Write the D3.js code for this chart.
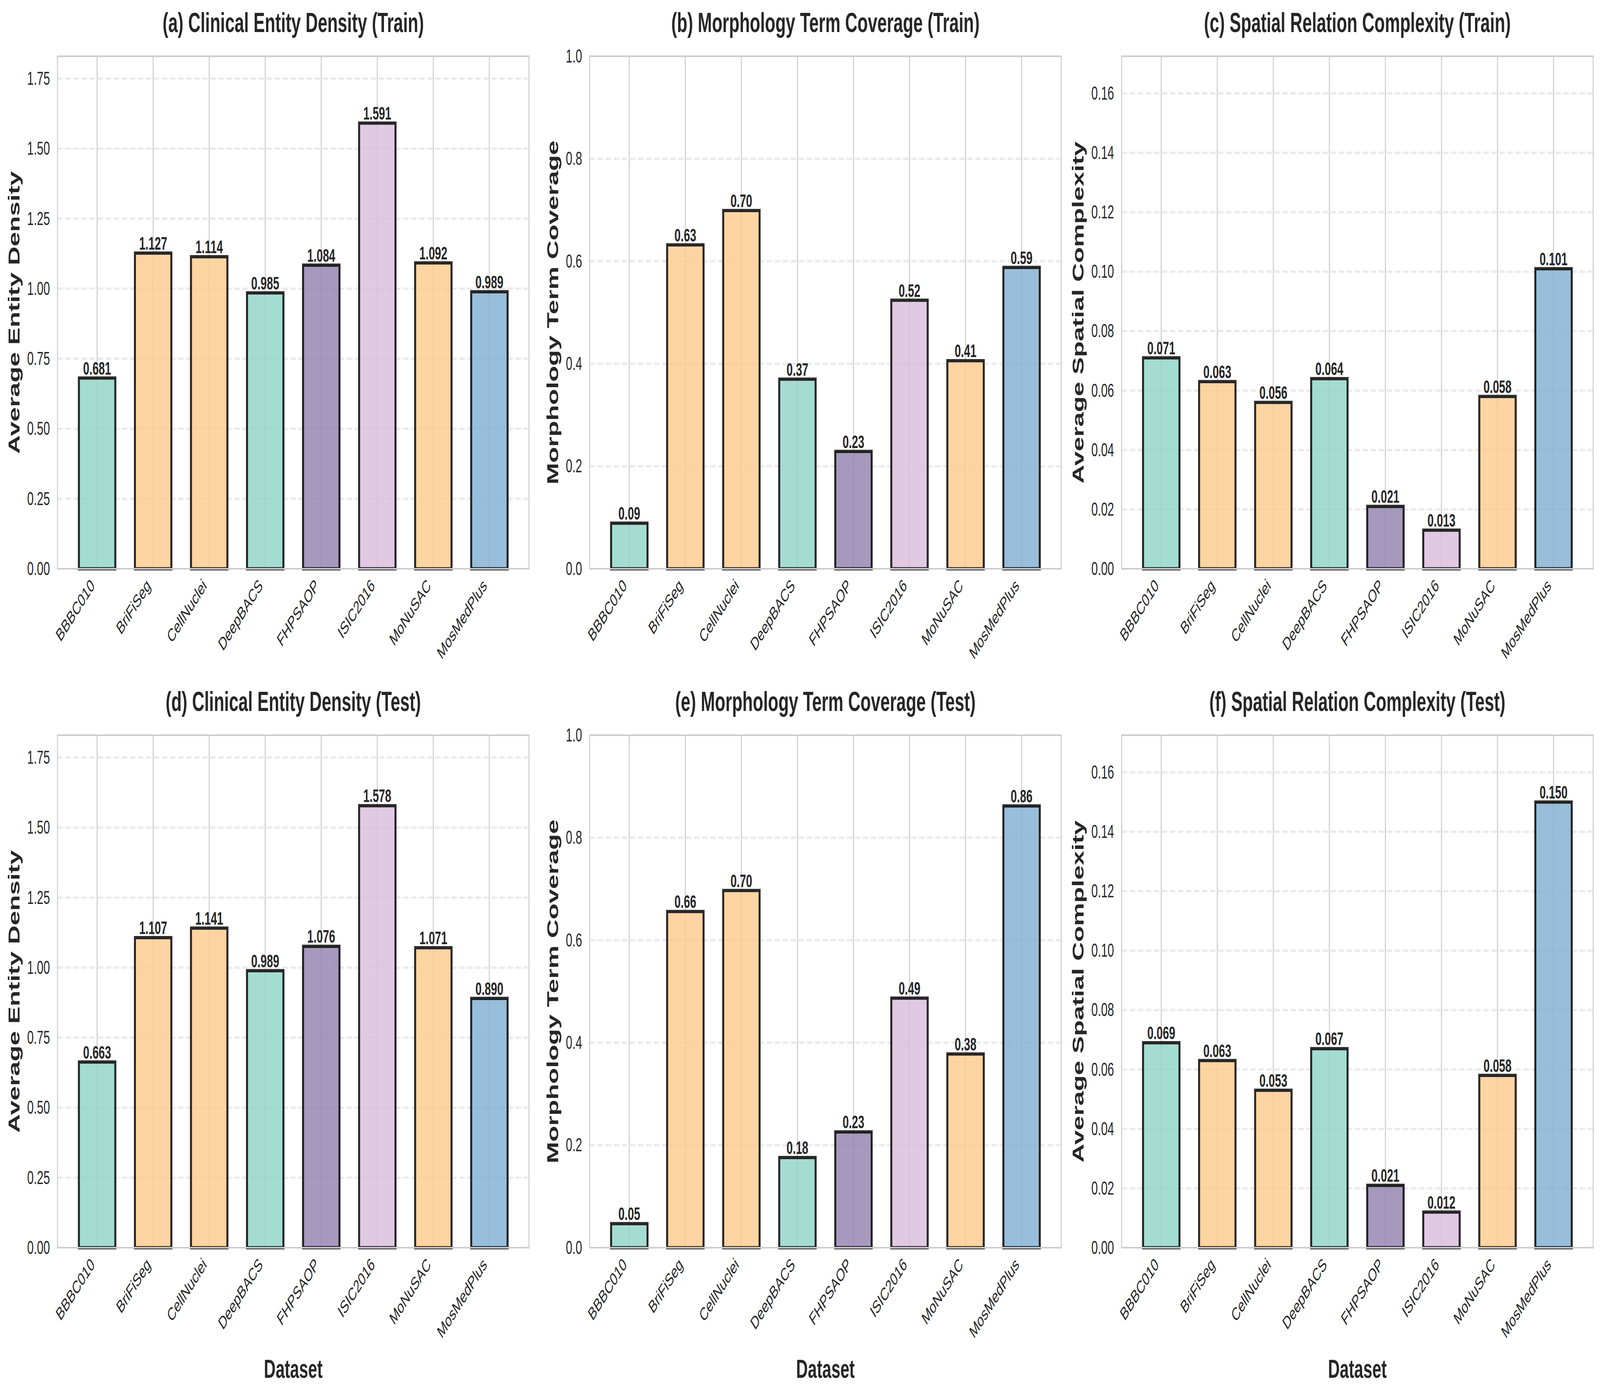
<!DOCTYPE html>
<html>
<head>
<meta charset="utf-8">
<script src="https://cdn.jsdelivr.net/npm/d3@7"></script>
<style>
	html, body { margin: 0; padding: 0; background: #fff; overflow: hidden; }
	#chart { display: block; width: 100vw; height: 100vh; }
	text { font-family: "Liberation Sans", Arial, sans-serif; fill: #262626; }
</style>
</head>
<body>
<svg id="chart"></svg>
<script>
// categories
var datasets = ['BBBC010', 'BriFiSeg', 'CellNuclei', 'DeepBACS', 'FHPSAOP', 'ISIC2016', 'MoNuSAC', 'MosMedPlus'];

// series values
var densityTrain = [0.681, 1.127, 1.114, 0.985, 1.084, 1.591, 1.092, 0.989];
var densityTest = [0.663, 1.107, 1.141, 0.989, 1.076, 1.578, 1.071, 0.890];
var coverageTrain = [0.089, 0.632, 0.699, 0.370, 0.229, 0.524, 0.406, 0.588];
var coverageTest = [0.047, 0.656, 0.697, 0.176, 0.226, 0.487, 0.378, 0.862];
var spatialTrain = [0.071, 0.063, 0.056, 0.064, 0.021, 0.013, 0.058, 0.101];
var spatialTest = [0.069, 0.063, 0.053, 0.067, 0.021, 0.012, 0.058, 0.150];

// tick labels
var densityTicks = [0, 0.25, 0.5, 0.75, 1.0, 1.25, 1.5, 1.75];
var coverageTicks = [0, 0.2, 0.4, 0.6, 0.8, 1.0];
var spatialTicks = [0, 0.02, 0.04, 0.06, 0.08, 0.10, 0.12, 0.14, 0.16];

var titles = [
	'(a) Clinical Entity Density (Train)', '(b) Morphology Term Coverage (Train)', '(c) Spatial Relation Complexity (Train)',
	'(d) Clinical Entity Density (Test)', '(e) Morphology Term Coverage (Test)', '(f) Spatial Relation Complexity (Test)'
];
var yLabels = ['Average Entity Density', 'Morphology Term Coverage', 'Average Spatial Complexity'];

// colour per dataset
var barColours = ['#8dd3c7', '#fec98b', '#fec98b', '#8dd3c7', '#9080ac', '#dabcdc', '#fec98b', '#7eaed2'];

var W = 6572, H = 3571,
	colLeft = [236, 2422, 4607], axW = 1937,
	rowTop = [144, 1882], axH = 1312,
	barWidth = 0.65;

var densityMax = d3.max(densityTrain.concat(densityTest)) * 1.15,
	spatialMax = d3.max(spatialTrain.concat(spatialTest)) * 1.15;

var panels = [
	{values: densityTrain, max: densityMax, ticks: densityTicks, tf: '.2f', vf: '.3f'},
	{values: coverageTrain, max: 1.0, ticks: coverageTicks, tf: '.1f', vf: '.2f'},
	{values: spatialTrain, max: spatialMax, ticks: spatialTicks, tf: '.2f', vf: '.3f'},
	{values: densityTest, max: densityMax, ticks: densityTicks, tf: '.2f', vf: '.3f'},
	{values: coverageTest, max: 1.0, ticks: coverageTicks, tf: '.1f', vf: '.2f'},
	{values: spatialTest, max: spatialMax, ticks: spatialTicks, tf: '.2f', vf: '.3f'}
];

// the viewport may be narrower than the figure, so stretch the figure to fill it
var svg = d3.select('#chart')
	.attr('viewBox', '0 0 ' + W + ' ' + H)
	.attr('preserveAspectRatio', 'none');
svg.append('rect').attr('width', W).attr('height', H).attr('fill', '#fff');

panels.forEach(function (p, k) {
	var row = Math.floor(k / 3), col = k % 3,
		x0 = colLeft[col], y0 = rowTop[row];

	var pad = 0.05 * (datasets.length - 1 + barWidth);
	var x = d3.scaleLinear()
		.domain([-barWidth / 2 - pad, datasets.length - 1 + barWidth / 2 + pad])
		.range([0, axW]);
	var y = d3.scaleLinear().domain([0, p.max]).range([axH, 0]);

	var g = svg.append('g').attr('transform', 'translate(' + x0 + ',' + y0 + ')');

	// grid: vertical solid, horizontal dashed
	g.append('g').selectAll('line')
		.data(d3.range(datasets.length)).enter()
		.append('line')
			.attr('x1', function (d) { return x(d); })
			.attr('x2', function (d) { return x(d); })
			.attr('y1', 0).attr('y2', axH)
			.attr('stroke', '#cccccc').attr('stroke-width', 4);

	g.append('g').selectAll('line')
		.data(p.ticks.filter(function (t) { return t > 0 && y(t) > 2; })).enter()
		.append('line')
			.attr('x1', 0).attr('x2', axW)
			.attr('y1', function (d) { return y(d); })
			.attr('y2', function (d) { return y(d); })
			.attr('stroke', '#ebebeb').attr('stroke-width', 6)
			.attr('stroke-dasharray', '23 10');

	// bars
	g.append('g').selectAll('rect')
		.data(p.values).enter()
		.append('rect')
			.attr('x', function (d, i) { return x(i - barWidth / 2); })
			.attr('width', x(barWidth) - x(0))
			.attr('y', function (d) { return y(d); })
			.attr('height', function (d) { return axH - y(d); })
			.attr('fill', function (d, i) { return barColours[i]; })
			.attr('fill-opacity', 0.8)
			.attr('stroke', '#000').attr('stroke-opacity', 0.83)
			.attr('stroke-width', 8.3);

	// value labels
	g.append('g').selectAll('text')
		.data(p.values).enter()
		.append('text')
			.attr('x', function (d, i) { return x(i); })
			.attr('y', function (d) { return y(d) - 9; })
			.attr('text-anchor', 'middle')
			.style('font-size', '46px').style('font-weight', 'bold')
			.text(function (d) { return d3.format(p.vf)(d); });

	// spines
	g.append('rect')
		.attr('width', axW).attr('height', axH)
		.attr('fill', 'none').attr('stroke', '#cccccc').attr('stroke-width', 4);

	// y axis
	var yAxis = g.append('g')
		.call(d3.axisLeft(y).tickValues(p.ticks).tickFormat(d3.format(p.tf)).tickSize(0).tickPadding(31));
	yAxis.select('.domain').remove();
	yAxis.selectAll('text')
		.style('font-size', '48px').style('font-family', '"Liberation Sans", Arial, sans-serif')
		.attr('fill', '#262626');

	// x axis
	var xAxis = g.append('g').attr('transform', 'translate(0,' + axH + ')')
		.call(d3.axisBottom(x).tickValues(d3.range(datasets.length))
			.tickFormat(function (i) { return datasets[i]; }).tickSize(0));
	xAxis.select('.domain').remove();
	xAxis.selectAll('text')
		.attr('x', -8).attr('y', 46).attr('dy', null)
		.attr('text-anchor', 'end')
		.attr('transform', 'rotate(-45,-8,46)')
		.style('font-size', '46px').style('font-family', '"Liberation Sans", Arial, sans-serif')
		.attr('fill', '#262626');

	// y label placed left of tick labels
	var tickLeft = d3.min(yAxis.selectAll('text').nodes(), function (n) { return n.getBBox().x; });
	g.append('text')
		.attr('transform', 'translate(' + (tickLeft - 31) + ',' + (axH / 2) + ') rotate(-90)')
		.attr('text-anchor', 'middle')
		.style('font-size', '66.7px').style('font-weight', 'bold')
		.text(yLabels[col]);

	// title
	g.append('text')
		.attr('x', axW / 2).attr('y', -62)
		.attr('text-anchor', 'middle')
		.style('font-size', '70px').style('font-weight', 'bold')
		.text(titles[k]);

	if (row === 1) {
		g.append('text')
			.attr('x', axW / 2).attr('y', 3527 - y0)
			.attr('text-anchor', 'middle')
			.style('font-size', '66.7px').style('font-weight', 'bold')
			.text('Dataset');
	}
});
</script>
</body>
</html>
